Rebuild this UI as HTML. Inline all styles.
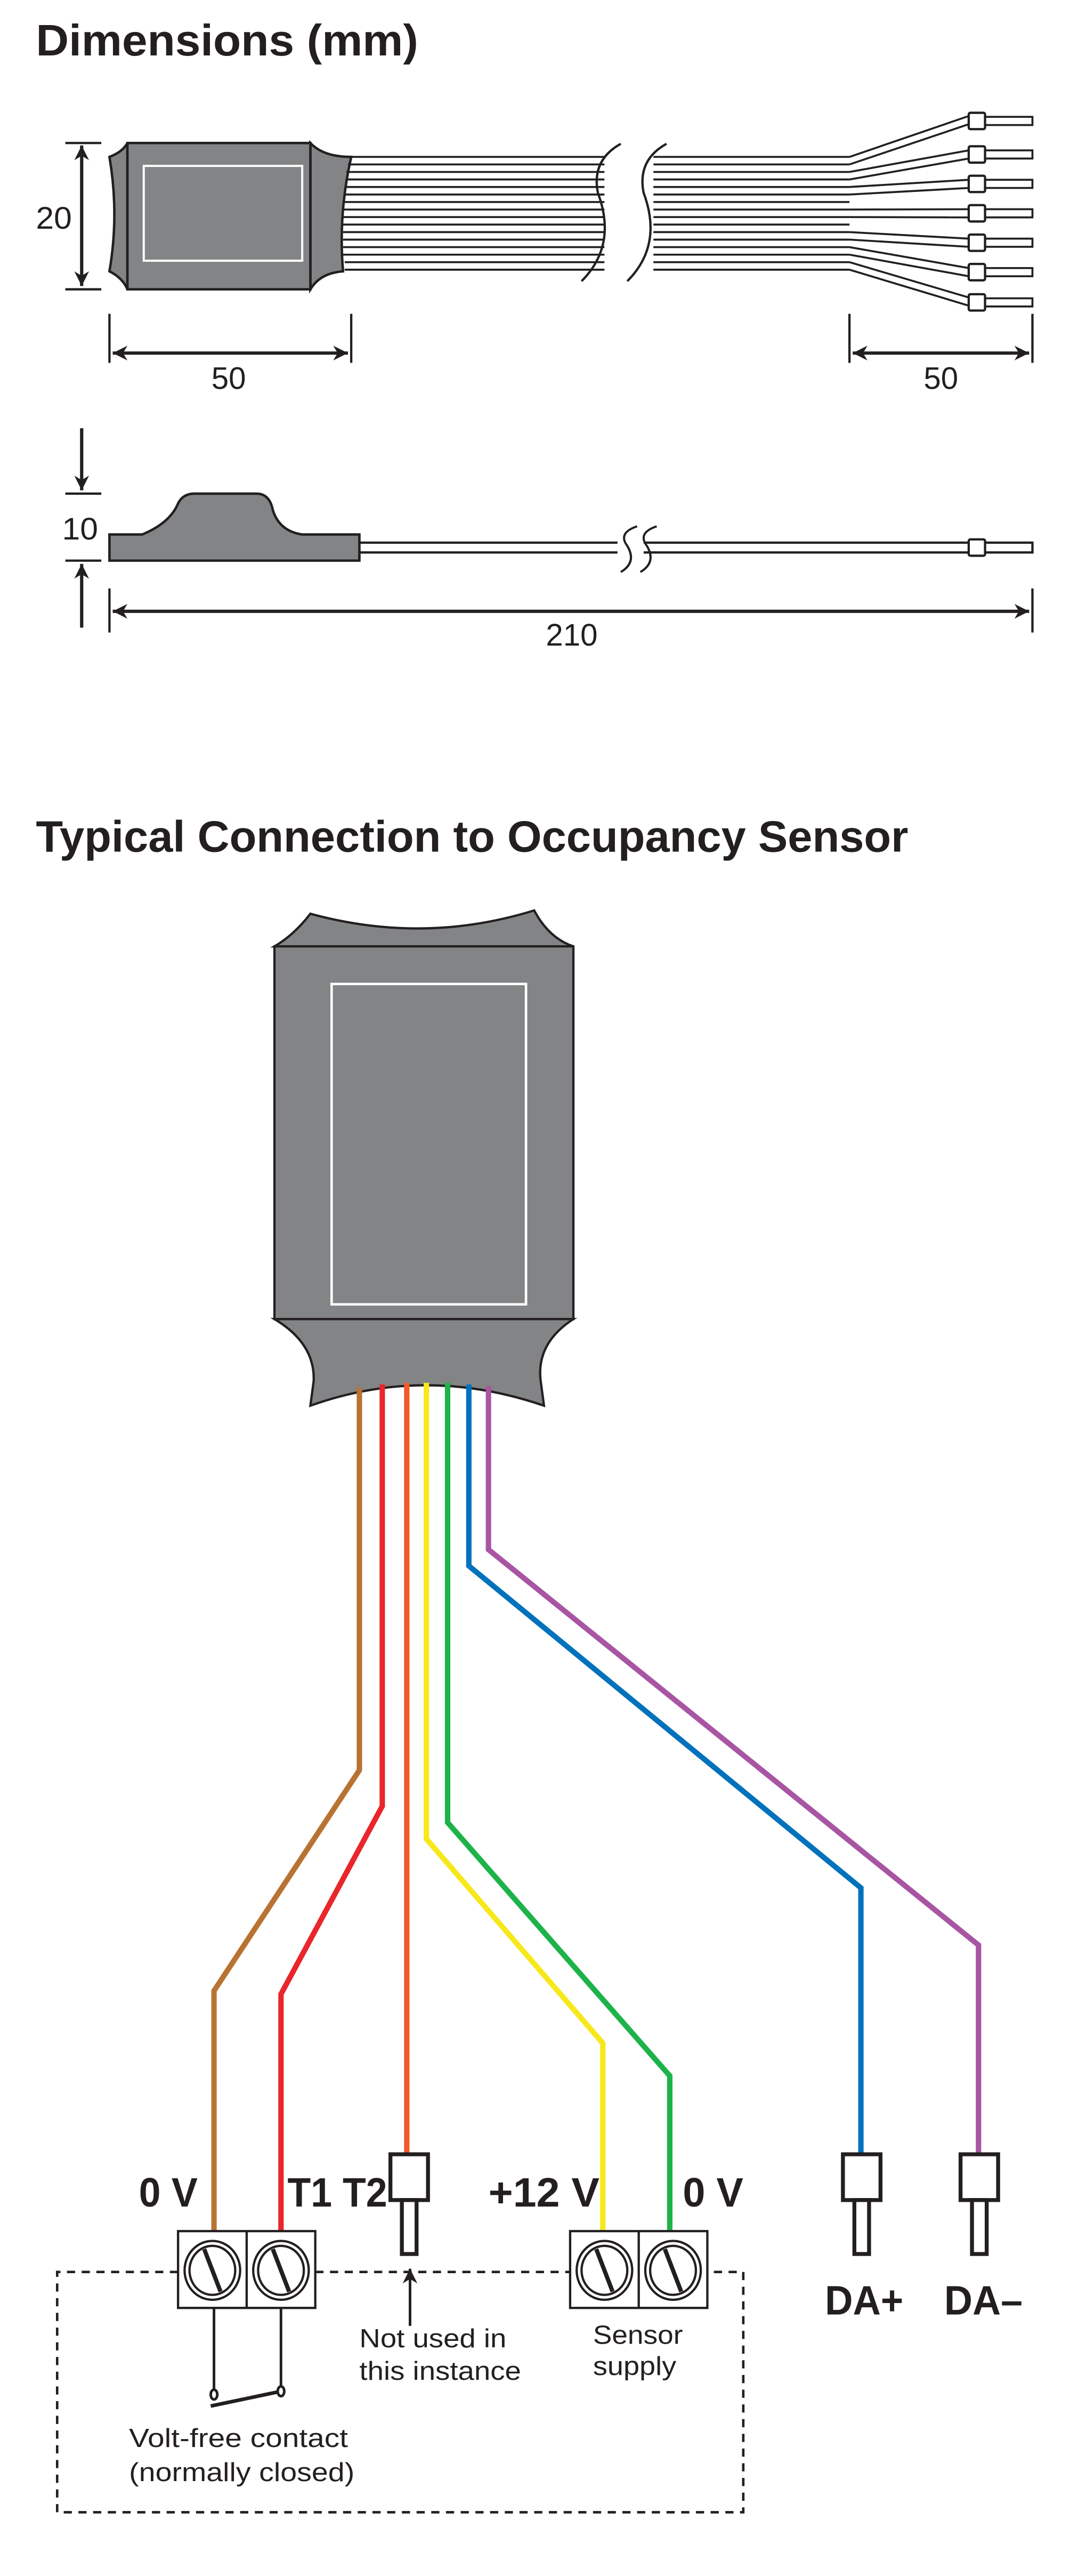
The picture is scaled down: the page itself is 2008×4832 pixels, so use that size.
<!DOCTYPE html>
<html><head><meta charset="utf-8"><style>html,body{margin:0;padding:0;background:#fff}svg{display:block}</style></head>
<body>
<svg width="2008" height="4832" viewBox="0 0 655 1576" preserveAspectRatio="none" xmlns="http://www.w3.org/2000/svg" font-family="Liberation Sans, sans-serif">
<defs>
<marker id="ah2" viewBox="0 0 10 10" refX="10" refY="5" markerWidth="16" markerHeight="9" orient="auto-start-reverse" markerUnits="userSpaceOnUse"><path d="M0,0 L10,5 L0,10 L3,5 Z" fill="#231f20"/></marker>
</defs>
<g fill="#231f20">
<text x="22" y="34" font-size="27" font-weight="bold" textLength="234" lengthAdjust="spacingAndGlyphs">Dimensions (mm)</text>
<text x="22" y="521" font-size="27" font-weight="bold" textLength="534" lengthAdjust="spacingAndGlyphs">Typical Connection to Occupancy Sensor</text>
</g>
<!-- top view -->
<g stroke="#231f20" stroke-width="1.4" fill="none">
<line x1="40" y1="87.5" x2="62" y2="87.5"/><line x1="40" y1="177" x2="62" y2="177"/>
<line x1="50" y1="89" x2="50" y2="175" stroke-width="2" marker-start="url(#ah2)" marker-end="url(#ah2)"/>
</g>
<text x="22" y="140" font-size="19" fill="#231f20" textLength="22" lengthAdjust="spacingAndGlyphs">20</text>
<g stroke="#231f20" stroke-width="1.5" fill="#838485">
<path d="M67,96 Q75,93 78,87.5 L78,177 Q75,170 67,166 Q73,131 67,96 Z"/>
<path d="M190,87.5 Q198,96 215,96 Q207,131 210,166 Q196,167 190,177 Z"/>
<rect x="78" y="87.5" width="112" height="89.5"/>
</g>
<rect x="88" y="101.5" width="97" height="58" fill="none" stroke="#fff" stroke-width="1.3"/>
<g stroke="#231f20" stroke-width="1.2">
<line x1="213" y1="96" x2="370" y2="96"/><line x1="213" y1="100.6" x2="370" y2="100.6"/><line x1="212" y1="105.2" x2="370" y2="105.2"/><line x1="212" y1="109.8" x2="370" y2="109.8"/><line x1="211" y1="114.4" x2="370" y2="114.4"/><line x1="211" y1="119" x2="370" y2="119"/><line x1="210" y1="123.6" x2="370" y2="123.6"/><line x1="210" y1="128.2" x2="370" y2="128.2"/><line x1="210" y1="132.8" x2="370" y2="132.8"/><line x1="210" y1="137.4" x2="370" y2="137.4"/><line x1="210" y1="142" x2="370" y2="142"/><line x1="210" y1="146.6" x2="370" y2="146.6"/><line x1="210" y1="151.2" x2="370" y2="151.2"/><line x1="210" y1="155.8" x2="370" y2="155.8"/><line x1="211" y1="160.4" x2="370" y2="160.4"/><line x1="211" y1="165" x2="370" y2="165"/>
<line x1="400" y1="96" x2="520" y2="96"/><line x1="400" y1="100.6" x2="520" y2="100.6"/><line x1="400" y1="105.2" x2="520" y2="105.2"/><line x1="400" y1="109.8" x2="520" y2="109.8"/><line x1="400" y1="114.4" x2="520" y2="114.4"/><line x1="400" y1="119" x2="520" y2="119"/><line x1="400" y1="123.6" x2="520" y2="123.6"/><line x1="400" y1="128.2" x2="520" y2="128.2"/><line x1="400" y1="132.8" x2="520" y2="132.8"/><line x1="400" y1="137.4" x2="520" y2="137.4"/><line x1="400" y1="142" x2="520" y2="142"/><line x1="400" y1="146.6" x2="520" y2="146.6"/><line x1="400" y1="151.2" x2="520" y2="151.2"/><line x1="400" y1="155.8" x2="520" y2="155.8"/><line x1="400" y1="160.4" x2="520" y2="160.4"/><line x1="400" y1="165" x2="520" y2="165"/>
</g>
<!-- break -->
<rect x="371" y="94" width="27" height="73" fill="#fff"/>
<path d="M380,88 Q362,98 366,118 Q378,150 356,172" fill="none" stroke="#231f20" stroke-width="1.4"/>
<path d="M408,88 Q390,98 394,118 Q406,150 384,172" fill="none" stroke="#231f20" stroke-width="1.4"/>
<!-- fan -->
<g stroke="#231f20" stroke-width="1.2" fill="none">
<line x1="520" y1="96" x2="593" y2="71"/><line x1="520" y1="100.6" x2="593" y2="76"/>
<line x1="520" y1="105.2" x2="593" y2="92"/><line x1="520" y1="109.8" x2="593" y2="97"/>
<line x1="520" y1="114.4" x2="593" y2="110"/><line x1="520" y1="119" x2="593" y2="115"/>
<line x1="520" y1="128.2" x2="593" y2="128"/><line x1="520" y1="132.8" x2="593" y2="133"/>
<line x1="520" y1="142" x2="593" y2="146"/><line x1="520" y1="146.6" x2="593" y2="151"/>
<line x1="520" y1="151.2" x2="593" y2="164"/><line x1="520" y1="155.8" x2="593" y2="169"/>
<line x1="520" y1="160.4" x2="593" y2="182"/><line x1="520" y1="165" x2="593" y2="187"/>
</g>
<g stroke="#231f20" stroke-width="1.4" fill="#fff">
<rect x="593" y="69" width="10" height="10" rx="1"/><rect x="593" y="89.5" width="10" height="10" rx="1"/><rect x="593" y="107.5" width="10" height="10" rx="1"/><rect x="593" y="125.5" width="10" height="10" rx="1"/><rect x="593" y="143.5" width="10" height="10" rx="1"/><rect x="593" y="161.5" width="10" height="10" rx="1"/><rect x="593" y="180" width="10" height="10" rx="1"/>
</g>
<g stroke="#231f20" stroke-width="1.2" fill="none">
<path d="M603,71.5 H632 V76.5 H603"/><path d="M603,92 H632 V97 H603"/><path d="M603,110 H632 V115 H603"/><path d="M603,128 H632 V133 H603"/><path d="M603,146 H632 V151 H603"/><path d="M603,164 H632 V169 H603"/><path d="M603,182.5 H632 V187.5 H603"/>
</g>
<g stroke="#231f20" stroke-width="1.4" fill="none">
<line x1="67" y1="192" x2="67" y2="222"/><line x1="215" y1="192" x2="215" y2="222"/>
<line x1="69" y1="216" x2="213" y2="216" stroke-width="2" marker-start="url(#ah2)" marker-end="url(#ah2)"/>
<line x1="520" y1="192" x2="520" y2="222"/><line x1="632" y1="192" x2="632" y2="222"/>
<line x1="522" y1="216" x2="630" y2="216" stroke-width="2" marker-start="url(#ah2)" marker-end="url(#ah2)"/>
</g>
<g fill="#231f20" font-size="19">
<text x="140" y="238" text-anchor="middle">50</text>
<text x="576" y="238" text-anchor="middle">50</text>
</g>
<!-- side view -->
<g stroke="#231f20" stroke-width="1.4" fill="none">
<line x1="50" y1="262" x2="50" y2="300" stroke-width="2" marker-end="url(#ah2)"/>
<line x1="40" y1="302" x2="62" y2="302"/>
<line x1="40" y1="343" x2="62" y2="343"/>
<line x1="50" y1="384" x2="50" y2="345" stroke-width="2" marker-end="url(#ah2)"/>
</g>
<text x="38" y="330" font-size="19" fill="#231f20" textLength="22" lengthAdjust="spacingAndGlyphs">10</text>
<path d="M67,327 L87,327 Q104,320 109,308 Q112,302 119,302 L157,302 Q165,302 167,312 Q171,325 185,327 L220,327 L220,343 L67,343 Z" fill="#838485" stroke="#231f20" stroke-width="1.5"/>
<g stroke="#231f20" stroke-width="1.4" fill="none">
<line x1="220" y1="332" x2="593" y2="332"/><line x1="220" y1="338" x2="593" y2="338"/>
<path d="M603,332 H632 V338 H603"/>
</g>
<rect x="378" y="330" width="16" height="10" fill="#fff"/>
<path d="M390,322 Q378,326 384,334 Q390,344 380,350" fill="none" stroke="#231f20" stroke-width="1.3"/>
<path d="M402,322 Q390,326 396,334 Q402,344 392,350" fill="none" stroke="#231f20" stroke-width="1.3"/>
<rect x="593" y="330" width="10" height="10" rx="1" fill="#fff" stroke="#231f20" stroke-width="1.4"/>
<g stroke="#231f20" stroke-width="1.4" fill="none">
<line x1="67" y1="360" x2="67" y2="387"/><line x1="632" y1="360" x2="632" y2="387"/>
<line x1="69" y1="374" x2="630" y2="374" stroke-width="2" marker-start="url(#ah2)" marker-end="url(#ah2)"/>
</g>
<text x="350" y="395" font-size="19" fill="#231f20" text-anchor="middle">210</text>
<!-- device -->
<g stroke="#231f20" stroke-width="1.4" fill="#838485">
<path d="M168,579 Q180,572 190,559 Q259,578 327,557 Q336,574 351,579 Z"/>
<path d="M168,807 Q193,822 192,845 L190,860 Q260,835 333,860 L331,845 Q328,822 351,807 Z"/>
<rect x="168" y="579" width="183" height="228"/>
</g>
<rect x="203" y="602" width="119" height="196" fill="none" stroke="#fff" stroke-width="1.5"/>
<!-- wires -->
<g fill="none" stroke-width="3.3" stroke-linejoin="miter">
<path d="M220,849 V1083 L131,1218 V1365" stroke="#b87333"/>
<path d="M234,847 V1105 L172,1220 V1365" stroke="#e8262b"/>
<path d="M249,846 V1318" stroke="#f15a29"/>
<path d="M261,846 V1125 L369,1250 V1365" stroke="#f7e81b"/>
<path d="M274,846 V1115 L410,1270 V1365" stroke="#1db34a"/>
<path d="M287,847 V958 L527,1155 V1318" stroke="#0072bc"/>
<path d="M299,848 V948 L599,1190 V1318" stroke="#a855a3"/>
</g>
<!-- ferrules -->
<g stroke="#231f20" stroke-width="2.4" fill="#fff">
<rect x="239" y="1318" width="23" height="28"/><rect x="246" y="1346" width="9" height="33"/>
<rect x="516" y="1318" width="23" height="28"/><rect x="523" y="1346" width="9" height="33"/>
<rect x="588" y="1318" width="23" height="28"/><rect x="595" y="1346" width="9" height="33"/>
</g>
<!-- dashed box -->
<g stroke="#231f20" stroke-width="1.5" fill="none" stroke-dasharray="5,4">
<path d="M109,1390 H35 V1537 H455 V1390 H433"/>
<line x1="193" y1="1390" x2="349" y2="1390"/>
</g>
<!-- terminal blocks -->
<g stroke="#231f20" stroke-width="1.4" fill="#fff">
<rect x="109" y="1365" width="84" height="47"/><line x1="151" y1="1365" x2="151" y2="1412"/>
<rect x="349" y="1365" width="84" height="47"/><line x1="391" y1="1365" x2="391" y2="1412"/>
</g>
<g stroke="#231f20" fill="none">
<g transform="translate(130,1389)"><ellipse rx="17" ry="18" stroke-width="1.4"/><ellipse rx="14" ry="15" stroke-width="1.4"/><line x1="-5" y1="-13" x2="5" y2="13" stroke-width="2.6"/></g>
<g transform="translate(172,1389)"><ellipse rx="17" ry="18" stroke-width="1.4"/><ellipse rx="14" ry="15" stroke-width="1.4"/><line x1="-5" y1="-13" x2="5" y2="13" stroke-width="2.6"/></g>
<g transform="translate(370,1389)"><ellipse rx="17" ry="18" stroke-width="1.4"/><ellipse rx="14" ry="15" stroke-width="1.4"/><line x1="-5" y1="-13" x2="5" y2="13" stroke-width="2.6"/></g>
<g transform="translate(412,1389)"><ellipse rx="17" ry="18" stroke-width="1.4"/><ellipse rx="14" ry="15" stroke-width="1.4"/><line x1="-5" y1="-13" x2="5" y2="13" stroke-width="2.6"/></g>
</g>
<!-- contact -->
<g stroke="#231f20" stroke-width="1.6" fill="#fff">
<line x1="131" y1="1412" x2="131" y2="1462"/><line x1="172" y1="1412" x2="172" y2="1461"/>
<line x1="129" y1="1472" x2="172" y2="1463" stroke-width="2.2"/>
<ellipse cx="131" cy="1465" rx="2" ry="3"/><ellipse cx="172" cy="1463" rx="2" ry="3"/>
</g>
<line x1="251" y1="1423" x2="251" y2="1388" stroke="#231f20" stroke-width="1.6" marker-end="url(#ah2)"/>
<!-- labels -->
<g fill="#231f20" font-weight="bold" font-size="25">
<text x="85" y="1350" textLength="36" lengthAdjust="spacingAndGlyphs">0 V</text>
<text x="176" y="1350" textLength="61" lengthAdjust="spacingAndGlyphs">T1 T2</text>
<text x="299" y="1350" textLength="68" lengthAdjust="spacingAndGlyphs">+12 V</text>
<text x="418" y="1350" textLength="37" lengthAdjust="spacingAndGlyphs">0 V</text>
<text x="505" y="1416" textLength="48" lengthAdjust="spacingAndGlyphs">DA+</text>
<text x="578" y="1416" textLength="48" lengthAdjust="spacingAndGlyphs">DA–</text>
</g>
<g fill="#231f20" font-size="16">
<text x="220" y="1436" textLength="90" lengthAdjust="spacingAndGlyphs">Not used in</text>
<text x="220" y="1456" textLength="99" lengthAdjust="spacingAndGlyphs">this instance</text>
<text x="363" y="1434" textLength="55" lengthAdjust="spacingAndGlyphs">Sensor</text>
<text x="363" y="1453" textLength="51" lengthAdjust="spacingAndGlyphs">supply</text>
<text x="79" y="1497" textLength="134" lengthAdjust="spacingAndGlyphs">Volt-free contact</text>
<text x="79" y="1518" textLength="138" lengthAdjust="spacingAndGlyphs">(normally closed)</text>
</g>
</svg>
</body></html>
